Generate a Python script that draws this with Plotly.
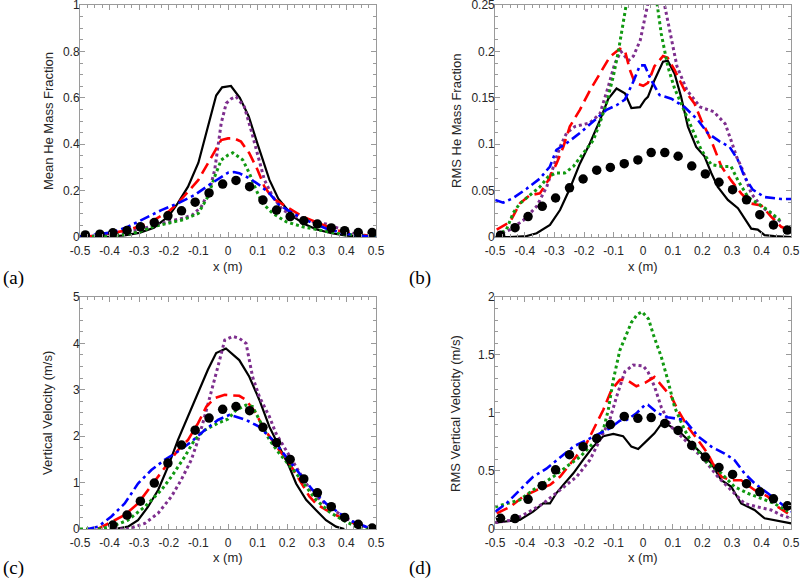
import plotly.graph_objects as go

# ---------------- data ----------------
x_ticks = [-0.5, -0.4, -0.3, -0.2, -0.1, 0, 0.1, 0.2, 0.3, 0.4, 0.5]
x_ticktext = ["-0.5", "-0.4", "-0.3", "-0.2", "-0.1", "0", "0.1", "0.2", "0.3", "0.4", "0.5"]
a_yticks = [0, 0.2, 0.4, 0.6, 0.8, 1]
a_ytext = ["0", "0.2", "0.4", "0.6", "0.8", "1"]
b_yticks = [0, 0.05, 0.1, 0.15, 0.2, 0.25]
b_ytext = ["0", "0.05", "0.1", "0.15", "0.2", "0.25"]
c_yticks = [0, 1, 2, 3, 4, 5]
c_ytext = ["0", "1", "2", "3", "4", "5"]
d_yticks = [0, 0.5, 1, 1.5, 2]
d_ytext = ["0", "0.5", "1", "1.5", "2"]

exp_x = [-0.482, -0.433, -0.389, -0.341, -0.296, -0.249, -0.203, -0.157, -0.111, -0.064, -0.018,
         0.027, 0.073, 0.118, 0.164, 0.21, 0.256, 0.302, 0.349, 0.394, 0.44, 0.487]

# (a) Mean He mass fraction
a_dots_y = [0.009, 0.012, 0.018, 0.028, 0.044, 0.062, 0.091, 0.113, 0.15, 0.19, 0.228, 0.244, 0.217,
            0.159, 0.116, 0.088, 0.07, 0.056, 0.039, 0.027, 0.019, 0.019]
a_black_x = [-0.5, -0.45, -0.4, -0.35, -0.3, -0.25, -0.2, -0.17, -0.135, -0.1, -0.07, -0.04, -0.02, 0.01,
             0.04, 0.07, 0.1, 0.14, 0.17, 0.22, 0.26, 0.3, 0.35, 0.4, 0.45, 0.5]
a_black_y = [0, 0, 0.002, 0.007, 0.018, 0.04, 0.09, 0.145, 0.217, 0.32, 0.47, 0.61, 0.645, 0.651,
             0.6, 0.52, 0.4, 0.246, 0.165, 0.088, 0.055, 0.032, 0.016, 0.006, 0.001, 0]
a_purple_x = [-0.5, -0.45, -0.4, -0.35, -0.3, -0.25, -0.2, -0.15, -0.12, -0.09, -0.062, -0.045, -0.034,
              -0.023, -0.006, 0.01, 0.027, 0.055, 0.078, 0.1, 0.123, 0.151, 0.185, 0.23, 0.286, 0.331,
              0.376, 0.421, 0.466, 0.5]
a_purple_y = [0.001, 0.004, 0.01, 0.02, 0.031, 0.05, 0.066, 0.082, 0.095, 0.131, 0.203, 0.289, 0.389,
              0.49, 0.576, 0.595, 0.605, 0.562, 0.461, 0.361, 0.246, 0.174, 0.116, 0.088, 0.066, 0.056,
              0.037, 0.016, 0.006, 0.002]
a_red_x = [-0.5, -0.45, -0.4, -0.35, -0.3, -0.25, -0.2, -0.17, -0.1, -0.056, -0.023, 0.0, 0.021, 0.044,
           0.072, 0.1, 0.123, 0.151, 0.196, 0.252, 0.308, 0.365, 0.421, 0.477, 0.5]
a_red_y = [0.001, 0.005, 0.015, 0.027, 0.045, 0.073, 0.11, 0.145, 0.246, 0.346, 0.418, 0.425, 0.425,
           0.411, 0.361, 0.289, 0.217, 0.167, 0.131, 0.088, 0.059, 0.03, 0.013, 0.006, 0.003]
a_green_x = [-0.5, -0.45, -0.4, -0.35, -0.3, -0.25, -0.2, -0.15, -0.1, -0.068, -0.045, -0.023, 0.0,
             0.016, 0.05, 0.072, 0.095, 0.117, 0.151, 0.196, 0.252, 0.308, 0.365, 0.444, 0.5]
a_green_y = [0, 0.002, 0.005, 0.01, 0.022, 0.045, 0.06, 0.075, 0.102, 0.174, 0.26, 0.332, 0.353,
             0.363, 0.332, 0.275, 0.203, 0.145, 0.102, 0.066, 0.044, 0.03, 0.016, 0.006, 0.002]
a_blue_x = [-0.5, -0.45, -0.394, -0.338, -0.281, -0.225, -0.169, -0.113, -0.056, 0.0, 0.02, 0.038,
            0.072, 0.106, 0.14, 0.173, 0.219, 0.275, 0.331, 0.388, 0.444, 0.5]
a_blue_y = [0.002, 0.009, 0.019, 0.044, 0.081, 0.116, 0.145, 0.181, 0.231, 0.277, 0.28, 0.275,
            0.253, 0.224, 0.188, 0.138, 0.102, 0.066, 0.037, 0.016, 0.006, 0.001]

# (b) RMS He mass fraction
b_dots_y = [0.002, 0.01, 0.022, 0.033, 0.042, 0.053, 0.0625, 0.072, 0.075, 0.079, 0.083, 0.091, 0.091,
            0.087, 0.0765, 0.068, 0.059, 0.051, 0.04, 0.024, 0.013, 0.0075]
b_black_x = [-0.5, -0.45, -0.394, -0.36, -0.315, -0.281, -0.248, -0.214, -0.18, -0.146, -0.118, -0.09,
             -0.062, -0.04, -0.011, 0.006, 0.016, 0.038, 0.067, 0.083, 0.106, 0.128, 0.151, 0.179,
             0.207, 0.23, 0.252, 0.286, 0.32, 0.342, 0.365, 0.387, 0.41, 0.443, 0.5]
b_black_y = [0, 0, 0.001, 0.004, 0.013, 0.029, 0.052, 0.079, 0.101, 0.126, 0.149, 0.16, 0.155, 0.139,
             0.14, 0.148, 0.151, 0.169, 0.189, 0.19, 0.176, 0.151, 0.119, 0.097, 0.087, 0.069, 0.054,
             0.04, 0.031, 0.02, 0.009, 0.008, 0.002, 0.001, 0]
b_red_x = [-0.495, -0.45, -0.417, -0.383, -0.349, -0.321, -0.293, -0.27, -0.248, -0.214, -0.18, -0.146,
           -0.113, -0.079, -0.062, -0.045, -0.028, 0.0, 0.016, 0.038, 0.067, 0.083, 0.106, 0.14, 0.173,
           0.196, 0.23, 0.264, 0.297, 0.331, 0.365, 0.399, 0.432, 0.466, 0.489]
b_red_y = [0.008, 0.016, 0.036, 0.045, 0.047, 0.061, 0.079, 0.097, 0.119, 0.137, 0.158, 0.176, 0.194,
           0.203, 0.201, 0.18, 0.166, 0.163, 0.166, 0.184, 0.195, 0.193, 0.18, 0.158, 0.144, 0.126,
           0.104, 0.076, 0.061, 0.047, 0.036, 0.034, 0.022, 0.011, 0.008]
b_purple_x = [-0.495, -0.45, -0.405, -0.36, -0.326, -0.304, -0.281, -0.259, -0.231, -0.18, -0.146,
              -0.118, -0.096, -0.075, -0.05, -0.033, -0.01, 0.018, 0.045, 0.069, 0.091, 0.114, 0.148,
              0.193, 0.238, 0.277, 0.297, 0.316, 0.331, 0.35, 0.365, 0.399, 0.443, 0.466]
b_purple_y = [0.002, 0.008, 0.018, 0.033, 0.054, 0.076, 0.097, 0.112, 0.119, 0.123, 0.133, 0.162,
              0.187, 0.2, 0.19, 0.195, 0.212, 0.255, 0.28, 0.255, 0.219, 0.184, 0.158, 0.14, 0.135,
              0.122, 0.104, 0.086, 0.076, 0.06, 0.047, 0.033, 0.022, 0.016]
b_green_x = [-0.495, -0.462, -0.439, -0.417, -0.383, -0.349, -0.321, -0.293, -0.265, -0.236, -0.203,
             -0.169, -0.146, -0.124, -0.101, -0.084, -0.068, -0.055, -0.03, 0.0, 0.03, 0.046, 0.061,
             0.083, 0.106, 0.128, 0.162, 0.196, 0.23, 0.264, 0.297, 0.32, 0.354, 0.387, 0.421, 0.462]
b_green_y = [0.001, 0.008, 0.026, 0.036, 0.045, 0.054, 0.065, 0.069, 0.069, 0.076, 0.09, 0.104, 0.123,
             0.144, 0.173, 0.2, 0.23, 0.255, 0.29, 0.31, 0.29, 0.255, 0.219, 0.184, 0.16, 0.144, 0.119,
             0.094, 0.078, 0.076, 0.076, 0.061, 0.043, 0.036, 0.029, 0.018]
b_blue_x = [-0.5, -0.473, -0.439, -0.394, -0.349, -0.315, -0.293, -0.259, -0.214, -0.169, -0.124,
            -0.09, -0.062, -0.034, -0.011, 0.005, 0.027, 0.055, 0.095, 0.14, 0.185, 0.218, 0.258,
            0.292, 0.32, 0.342, 0.37, 0.41, 0.466, 0.5]
b_blue_y = [0.04, 0.037, 0.042, 0.052, 0.063, 0.076, 0.094, 0.101, 0.112, 0.124, 0.137, 0.142, 0.148,
            0.167, 0.185, 0.185, 0.169, 0.153, 0.149, 0.14, 0.126, 0.112, 0.103, 0.097, 0.083, 0.065,
            0.051, 0.043, 0.041, 0.041]

# (c) Vertical velocity
c_dots_x = exp_x[2:]
c_dots_y = [0.086, 0.3, 0.6, 0.99, 1.42, 1.81, 2.13, 2.39, 2.58, 2.64, 2.55, 2.19, 1.86, 1.5, 1.08,
            0.78, 0.48, 0.25, 0.1, 0.02]
c_black_x = [-0.383, -0.338, -0.304, -0.27, -0.236, -0.203, -0.169, -0.135, -0.101, -0.068, -0.04,
             -0.017, -0.007, 0.038, 0.072, 0.106, 0.14, 0.173, 0.207, 0.23, 0.264, 0.297, 0.331,
             0.365, 0.393]
c_black_y = [0, 0.05, 0.19, 0.48, 0.84, 1.34, 1.92, 2.42, 2.92, 3.43, 3.79, 3.87, 3.89, 3.64, 3.28,
             2.78, 2.2, 1.77, 1.34, 0.98, 0.63, 0.41, 0.19, 0.05, 0]
c_purple_x = [-0.385, -0.338, -0.281, -0.236, -0.191, -0.158, -0.124, -0.101, -0.079, -0.056, -0.034,
              -0.011, 0.016, 0.038, 0.061, 0.072, 0.083, 0.106, 0.14, 0.162, 0.196, 0.23, 0.264,
              0.297, 0.342, 0.388, 0.433, 0.477, 0.5]
c_purple_y = [0, 0, 0.12, 0.34, 0.7, 1.06, 1.49, 1.92, 2.42, 3.0, 3.5, 4.07, 4.15, 4.11, 4.0, 3.64,
              3.28, 2.85, 2.42, 2.06, 1.7, 1.34, 0.98, 0.7, 0.48, 0.27, 0.12, 0.02, 0.01]
c_red_x = [-0.44, -0.394, -0.349, -0.304, -0.27, -0.236, -0.203, -0.169, -0.135, -0.101, -0.073,
           -0.045, -0.011, 0.038, 0.061, 0.095, 0.117, 0.14, 0.173, 0.207, 0.241, 0.275, 0.297,
           0.331, 0.365, 0.41, 0.455, 0.489]
c_red_y = [0, 0.16, 0.3, 0.55, 0.84, 1.13, 1.42, 1.7, 1.92, 2.28, 2.64, 2.82, 2.89, 2.87, 2.78, 2.49,
           2.2, 1.99, 1.7, 1.42, 1.06, 0.7, 0.55, 0.41, 0.3, 0.16, 0.05, 0]
c_green_x = [-0.5, -0.439, -0.394, -0.338, -0.281, -0.225, -0.191, -0.146, -0.113, -0.079, -0.034,
             0.0, 0.027, 0.061, 0.083, 0.106, 0.14, 0.173, 0.207, 0.23, 0.264, 0.297, 0.342, 0.388,
             0.433, 0.477, 0.5]
c_green_y = [0, 0, 0.05, 0.19, 0.48, 0.84, 1.13, 1.56, 1.92, 2.13, 2.28, 2.37, 2.56, 2.67, 2.64,
             2.35, 1.92, 1.63, 1.38, 1.2, 0.91, 0.63, 0.37, 0.19, 0.05, 0, 0]
c_blue_x = [-0.473, -0.439, -0.394, -0.349, -0.304, -0.259, -0.214, -0.169, -0.124, -0.079, -0.034,
            0.005, 0.027, 0.061, 0.106, 0.151, 0.196, 0.241, 0.286, 0.331, 0.376, 0.421, 0.466, 0.5]
c_blue_y = [0, 0.05, 0.27, 0.55, 0.98, 1.27, 1.49, 1.67, 1.88, 2.13, 2.35, 2.46, 2.42, 2.35, 2.2,
            1.92, 1.56, 1.2, 0.84, 0.55, 0.34, 0.16, 0.05, 0]

# (d) RMS vertical velocity
d_dots_y = [0.092, 0.09, 0.256, 0.373, 0.51, 0.64, 0.71, 0.78, 0.9, 0.97, 0.954, 0.96, 0.91, 0.85,
            0.72, 0.62, 0.53, 0.47, 0.39, 0.32, 0.26, 0.2]
d_black_x = [-0.5, -0.462, -0.417, -0.372, -0.338, -0.315, -0.293, -0.27, -0.236, -0.203, -0.169,
             -0.135, -0.101, -0.068, -0.04, -0.017, 0.006, 0.016, 0.038, 0.067, 0.095, 0.128, 0.162,
             0.196, 0.23, 0.264, 0.297, 0.331, 0.376, 0.41, 0.455, 0.5]
d_black_y = [0.055, 0.063, 0.078, 0.15, 0.22, 0.22, 0.31, 0.38, 0.48, 0.595, 0.71, 0.8, 0.82, 0.8,
             0.71, 0.69, 0.74, 0.77, 0.825, 0.925, 0.88, 0.825, 0.74, 0.65, 0.566, 0.42, 0.365, 0.22,
             0.164, 0.092, 0.069, 0.049]
d_purple_x = [-0.5, -0.439, -0.394, -0.338, -0.281, -0.225, -0.18, -0.146, -0.113, -0.09, -0.062,
              -0.034, 0.0, 0.016, 0.038, 0.061, 0.095, 0.128, 0.162, 0.207, 0.252, 0.297, 0.342,
              0.387, 0.432, 0.466, 0.5]
d_purple_y = [0.055, 0.078, 0.135, 0.22, 0.336, 0.45, 0.595, 0.767, 0.94, 1.14, 1.356, 1.414, 1.405,
              1.356, 1.23, 1.05, 0.88, 0.8, 0.71, 0.595, 0.45, 0.336, 0.22, 0.19, 0.164, 0.12, 0.092]
d_red_x = [-0.495, -0.45, -0.405, -0.36, -0.315, -0.281, -0.236, -0.191, -0.169, -0.135, -0.107,
           -0.079, -0.056, -0.023, 0.006, 0.038, 0.061, 0.095, 0.117, 0.151, 0.185, 0.218, 0.235,
           0.264, 0.297, 0.331, 0.376, 0.421, 0.455, 0.489]
d_red_y = [0.135, 0.19, 0.28, 0.336, 0.38, 0.45, 0.595, 0.74, 0.853, 1.026, 1.2, 1.285, 1.285, 1.23,
           1.26, 1.31, 1.24, 1.14, 1.026, 0.88, 0.767, 0.65, 0.566, 0.45, 0.42, 0.42, 0.336, 0.28,
           0.19, 0.135]
d_green_x = [-0.5, -0.462, -0.417, -0.372, -0.338, -0.304, -0.259, -0.214, -0.169, -0.135, -0.118,
             -0.101, -0.079, -0.056, -0.04, -0.02, -0.004, 0.018, 0.035, 0.061, 0.083, 0.106, 0.14,
             0.173, 0.218, 0.264, 0.308, 0.353, 0.399, 0.443, 0.489]
d_green_y = [0.19, 0.22, 0.25, 0.336, 0.394, 0.45, 0.537, 0.62, 0.74, 0.853, 1.026, 1.285, 1.54, 1.68,
             1.78, 1.85, 1.873, 1.81, 1.67, 1.485, 1.285, 1.05, 0.853, 0.71, 0.566, 0.48, 0.365,
             0.308, 0.265, 0.22, 0.15]
d_blue_x = [-0.5, -0.462, -0.417, -0.372, -0.327, -0.281, -0.236, -0.191, -0.146, -0.113, -0.079,
            -0.056, -0.023, 0.006, 0.016, 0.05, 0.083, 0.14, 0.185, 0.23, 0.275, 0.308, 0.342, 0.376,
            0.421, 0.466, 0.5]
d_blue_y = [0.15, 0.22, 0.336, 0.45, 0.52, 0.62, 0.71, 0.767, 0.825, 0.868, 0.934, 0.94, 0.997, 1.07,
            1.07, 0.997, 0.963, 0.94, 0.8, 0.71, 0.65, 0.595, 0.48, 0.394, 0.308, 0.22, 0.15]

# ---------------- styling ----------------
STYLES = {
    "black": dict(color="#000000", width=2.2, dash="solid"),
    "purple": dict(color="#7E2F8E", width=3, dash="dot"),
    "red": dict(color="#FF0000", width=2.6, dash="12px,6px"),
    "green": dict(color="#119911", width=3, dash="dot"),
    "blue": dict(color="#0000FF", width=2.6, dash="10px,4px,3px,4px"),
}

panels = [
    dict(ax="1", series=[("black", a_black_x, a_black_y), ("purple", a_purple_x, a_purple_y),
                         ("red", a_red_x, a_red_y), ("green", a_green_x, a_green_y),
                         ("blue", a_blue_x, a_blue_y)],
         dots=(exp_x, a_dots_y), yr=[0, 1], yt=(a_yticks, a_ytext), ym=0.05,
         xd=[0.1, 0.47], yd=[0.5900, 0.9913], ytitle="Mean He Mass Fraction", label="(a)",
         tx=48 / 800),
    dict(ax="2", series=[("black", b_black_x, b_black_y), ("purple", b_purple_x, b_purple_y),
                         ("red", b_red_x, b_red_y), ("green", b_green_x, b_green_y),
                         ("blue", b_blue_x, b_blue_y)],
         dots=(exp_x, b_dots_y), yr=[0, 0.25], yt=(b_yticks, b_ytext), ym=0.0125,
         xd=[0.619, 0.989], yd=[0.5900, 0.9913], ytitle="RMS He Mass Fraction", label="(b)",
         tx=456 / 800),
    dict(ax="3", series=[("black", c_black_x, c_black_y), ("purple", c_purple_x, c_purple_y),
                         ("red", c_red_x, c_red_y), ("green", c_green_x, c_green_y),
                         ("blue", c_blue_x, c_blue_y)],
         dots=(c_dots_x, c_dots_y), yr=[0, 5], yt=(c_yticks, c_ytext), ym=0.25,
         xd=[0.1, 0.47], yd=[0.0848, 0.4862], ytitle="Vertical Velocity (m/s)", label="(c)",
         tx=48 / 800),
    dict(ax="4", series=[("black", d_black_x, d_black_y), ("purple", d_purple_x, d_purple_y),
                         ("red", d_red_x, d_red_y), ("green", d_green_x, d_green_y),
                         ("blue", d_blue_x, d_blue_y)],
         dots=(exp_x, d_dots_y), yr=[0, 2], yt=(d_yticks, d_ytext), ym=0.1,
         xd=[0.619, 0.989], yd=[0.0848, 0.4862], ytitle="RMS Vertical Velocity (m/s)", label="(d)",
         tx=456 / 800),
]

FONT = "Liberation Sans, Arial, sans-serif"
AXCOL = "#9a9a9a"
TXTCOL = "#262626"

fig = go.Figure()
layout = dict(
    template="none",
    width=800, height=578, margin=dict(l=0, r=0, t=0, b=0, pad=0, autoexpand=False),
    paper_bgcolor="white", plot_bgcolor="white", showlegend=False,
    font=dict(family=FONT, size=12, color=TXTCOL),
    annotations=[],
)

for p in panels:
    n = p["ax"]
    xa, ya = "x" + ("" if n == "1" else n), "y" + ("" if n == "1" else n)
    for name, xs, ys in p["series"]:
        st = STYLES[name]
        fig.add_trace(go.Scatter(x=xs, y=ys, mode="lines", xaxis=xa, yaxis=ya,
                                 line=dict(color=st["color"], width=st["width"], dash=st["dash"]),
                                 hoverinfo="skip"))
    fig.add_trace(go.Scatter(x=p["dots"][0], y=p["dots"][1], mode="markers", xaxis=xa, yaxis=ya,
                             marker=dict(color="black", size=9.5, line=dict(width=0)),
                             cliponaxis=True, hoverinfo="skip"))
    common = dict(showline=True, linecolor=AXCOL, linewidth=1, mirror="ticks", ticks="inside",
                  ticklen=5, tickcolor=AXCOL, tickwidth=1, showgrid=False, zeroline=False,
                  automargin=False, ticklabeloverflow="allow",
                  tickfont=dict(family=FONT, size=12, color=TXTCOL))
    layout["xaxis" + ("" if n == "1" else n)] = dict(
        common, domain=p["xd"], anchor=ya, range=[-0.5, 0.5], tickvals=x_ticks, ticktext=x_ticktext,
        ticklabelstandoff=3,
        minor=dict(ticks="inside", dtick=0.025, tick0=0, ticklen=3, tickcolor=AXCOL, showgrid=False))
    layout["yaxis" + ("" if n == "1" else n)] = dict(
        common, domain=p["yd"], anchor=xa, range=p["yr"], tickvals=p["yt"][0], ticktext=p["yt"][1],
        ticklabelstandoff=-3,
        minor=dict(ticks="inside", dtick=p["ym"], tick0=0, ticklen=3, tickcolor=AXCOL, showgrid=False))
    xc = (p["xd"][0] + p["xd"][1]) / 2
    yc = (p["yd"][0] + p["yd"][1]) / 2
    top = p["yd"][0] > 0.5
    layout["annotations"] += [
        dict(text=p["ytitle"], xref="paper", yref="paper", x=p["tx"], y=yc,
             textangle=-90, showarrow=False, xanchor="center", yanchor="middle",
             font=dict(family=FONT, size=13, color=TXTCOL)),
        dict(text="x (m)", xref="paper", yref="paper", x=xc,
             y=(1 - 266.5 / 578) if top else (1 - 557 / 578), showarrow=False,
             xanchor="center", yanchor="middle", font=dict(family=FONT, size=13, color=TXTCOL)),
        dict(text=p["label"], xref="paper", yref="paper",
             x=(13 / 800) if p["xd"][0] < 0.5 else (420 / 800),
             y=(1 - 278 / 578) if top else (1 - 568 / 578), showarrow=False,
             xanchor="center", yanchor="middle",
             font=dict(family="Liberation Serif, DejaVu Serif, serif", size=19, color="#000000")),
    ]

fig.update_layout(**layout)
fig.write_html("out.html", config={"displayModeBar": False, "staticPlot": True},
               post_script="document.body.style.margin='0px';document.body.style.overflow='hidden';")
